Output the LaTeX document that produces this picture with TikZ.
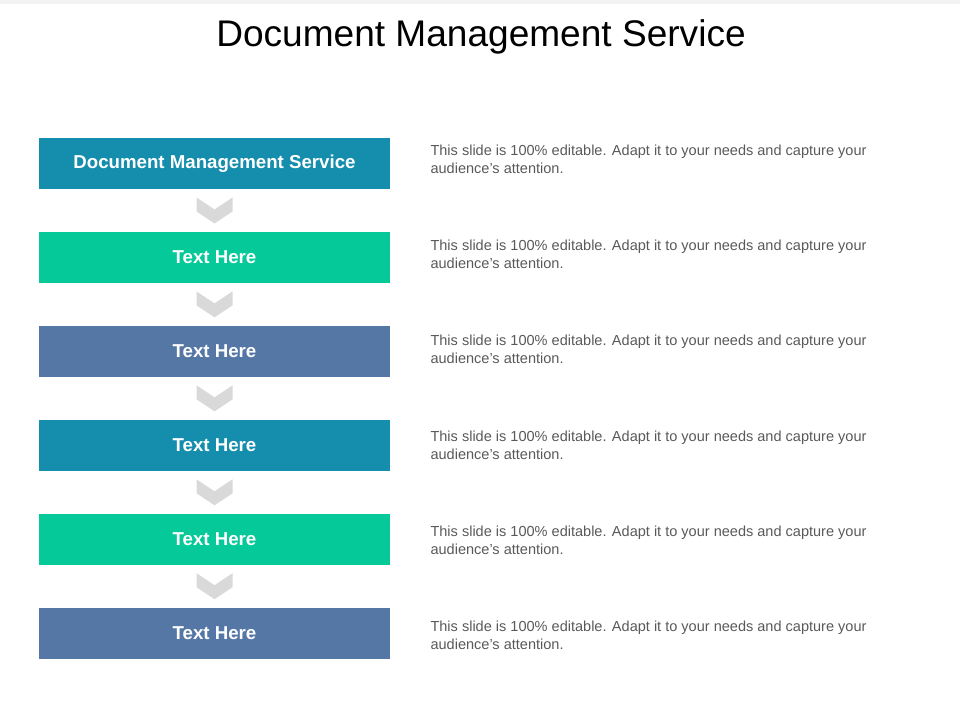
\documentclass[tikz,border=0pt]{standalone}
\usepackage{fontspec}
\setmainfont{Liberation Sans}
\usetikzlibrary{positioning, calc}

\definecolor{dmsteal}{HTML}{158DAD}
\definecolor{dmsgreen}{HTML}{05C999}
\definecolor{dmsslate}{HTML}{5577A6}
\definecolor{dmschev}{HTML}{D9D9D9}
\definecolor{dmstext}{HTML}{595959}

\begin{document}
\begin{tikzpicture}
    [x=0.75pt, y=-0.75pt,
     box/.style={minimum width=263.25pt, minimum height=38.25pt, inner sep=0pt,
                 text=white, font=\fontsize{14}{16}\selectfont\bfseries},
     desc/.style={align=left, inner sep=0pt, text=dmstext,
                  font=\fontsize{10.9}{13.5}\selectfont},
     chev/.style={fill=dmschev},
     node distance=31.8pt,
    ]
    \useasboundingbox (0,0) rectangle (960,720);
    \fill [black!5] (0,0) rectangle (960,4);

    \node (title) [font=\fontsize{27.8}{32}\selectfont] at (481,37) {Document Management Service};

    \node (dms) [box, fill=dmsteal] at (214.5,163.5) {Document Management Service};
    \node (step2) [box, fill=dmsgreen, below=of dms] {Text Here};
    \node (step3) [box, fill=dmsslate, below=of step2] {Text Here};
    \node (step4) [box, fill=dmsteal, below=of step3] {Text Here};
    \node (step5) [box, fill=dmsgreen, below=of step4] {Text Here};
    \node (step6) [box, fill=dmsslate, below=of step5] {Text Here};

    \foreach \s/\t in {dms/step2, step2/step3, step3/step4, step4/step5, step5/step6}
        \fill [chev] ($(\s.south)!0.5!(\t.north)$) ++(-18,-13) -- ++(18,12) -- ++(18,-12)
            -- ++(0,14) -- ++(-18,12) -- ++(-18,-12) -- cycle;

    \foreach \s [count=\i] in {dms, step2, step3, step4, step5, step6}
        \node (\s-desc) [desc, right=30pt of \s, yshift={3pt-0.9pt*(\i-1)}] {%
            This slide is 100\% editable. Adapt it to your needs and capture your\\
            audience's attention.};

\end{tikzpicture}
\end{document}
